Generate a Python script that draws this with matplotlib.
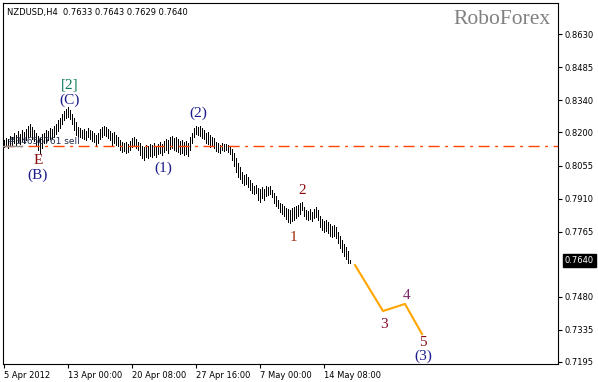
import matplotlib.pyplot as plt
import matplotlib.transforms as mtransforms

# H4 bars, NZDUSD (high / low per bar)
highs = [
    0.8167, 0.8176, 0.8171, 0.8184, 0.8180, 0.8197, 0.8189, 0.8206, 0.8193, 0.8211,
    0.8202, 0.8215, 0.8228, 0.8237, 0.8224, 0.8211, 0.8197, 0.8184, 0.8176, 0.8193,
    0.8197, 0.8211, 0.8206, 0.8219, 0.8215, 0.8228, 0.8237, 0.8254, 0.8263, 0.8281,
    0.8294, 0.8303, 0.8311, 0.8298, 0.8281, 0.8263, 0.8246, 0.8224, 0.8219, 0.8211,
    0.8215, 0.8206, 0.8219, 0.8211, 0.8206, 0.8197, 0.8189, 0.8197, 0.8215, 0.8224,
    0.8228, 0.8224, 0.8215, 0.8206, 0.8197, 0.8202, 0.8189, 0.8180, 0.8167, 0.8158,
    0.8154, 0.8158, 0.8149, 0.8162, 0.8176, 0.8180, 0.8171, 0.8158, 0.8154, 0.8141,
    0.8136, 0.8145, 0.8141, 0.8149, 0.8145, 0.8154, 0.8141, 0.8149, 0.8158, 0.8149,
    0.8162, 0.8171, 0.8167, 0.8180, 0.8184, 0.8176, 0.8180, 0.8171, 0.8162, 0.8167,
    0.8158, 0.8162, 0.8154, 0.8180, 0.8197, 0.8219, 0.8228, 0.8224, 0.8228, 0.8219,
    0.8211, 0.8197, 0.8202, 0.8189, 0.8180, 0.8176, 0.8158, 0.8154, 0.8145, 0.8154,
    0.8149, 0.8149, 0.8145, 0.8141, 0.8127, 0.8110, 0.8088, 0.8066, 0.8049, 0.8027,
    0.8014, 0.8018, 0.8005, 0.7992, 0.7978, 0.7966, 0.7970, 0.7957, 0.7952, 0.7961,
    0.7952, 0.7966, 0.7961, 0.7966, 0.7948, 0.7935, 0.7922, 0.7904, 0.7891, 0.7887,
    0.7878, 0.7869, 0.7865, 0.7860, 0.7869, 0.7873, 0.7878, 0.7882, 0.7891, 0.7895,
    0.7873, 0.7860, 0.7856, 0.7865, 0.7851, 0.7865, 0.7873, 0.7860, 0.7834, 0.7821,
    0.7812, 0.7816, 0.7808, 0.7799, 0.7790, 0.7795, 0.7786, 0.7764, 0.7747, 0.7729,
    0.7711, 0.7698, 0.7681, 0.7643,
]
lows = [
    0.8136, 0.8141, 0.8132, 0.8141, 0.8145, 0.8154, 0.8141, 0.8158, 0.8149, 0.8162,
    0.8154, 0.8167, 0.8180, 0.8184, 0.8171, 0.8162, 0.8145, 0.8123, 0.8110, 0.8132,
    0.8154, 0.8158, 0.8167, 0.8171, 0.8176, 0.8180, 0.8193, 0.8206, 0.8219, 0.8237,
    0.8254, 0.8263, 0.8268, 0.8259, 0.8237, 0.8211, 0.8189, 0.8184, 0.8180, 0.8176,
    0.8171, 0.8167, 0.8180, 0.8171, 0.8162, 0.8158, 0.8145, 0.8154, 0.8171, 0.8180,
    0.8189, 0.8184, 0.8176, 0.8167, 0.8145, 0.8154, 0.8145, 0.8141, 0.8123, 0.8114,
    0.8119, 0.8110, 0.8114, 0.8123, 0.8136, 0.8141, 0.8132, 0.8123, 0.8101, 0.8088,
    0.8079, 0.8092, 0.8088, 0.8097, 0.8092, 0.8101, 0.8092, 0.8105, 0.8110, 0.8101,
    0.8114, 0.8123, 0.8110, 0.8127, 0.8132, 0.8123, 0.8119, 0.8114, 0.8105, 0.8110,
    0.8101, 0.8105, 0.8097, 0.8123, 0.8154, 0.8180, 0.8193, 0.8189, 0.8184, 0.8176,
    0.8171, 0.8154, 0.8149, 0.8136, 0.8141, 0.8132, 0.8119, 0.8114, 0.8110, 0.8123,
    0.8119, 0.8123, 0.8114, 0.8105, 0.8079, 0.8053, 0.8027, 0.8005, 0.7996, 0.7978,
    0.7970, 0.7974, 0.7961, 0.7948, 0.7935, 0.7930, 0.7935, 0.7904, 0.7895, 0.7913,
    0.7904, 0.7922, 0.7926, 0.7930, 0.7917, 0.7891, 0.7878, 0.7869, 0.7851, 0.7843,
    0.7834, 0.7821, 0.7808, 0.7803, 0.7812, 0.7816, 0.7825, 0.7834, 0.7843, 0.7860,
    0.7834, 0.7821, 0.7816, 0.7821, 0.7812, 0.7825, 0.7829, 0.7816, 0.7786, 0.7773,
    0.7764, 0.7768, 0.7760, 0.7747, 0.7742, 0.7747, 0.7738, 0.7716, 0.7694, 0.7676,
    0.7659, 0.7646, 0.7629, 0.7629,
]

# forecast path (bar index, price)
proj_idx = [175.5, 189.5, 200.5, 209]
proj_price = [0.7619, 0.7418, 0.7449, 0.7317]

sell_level = 0.8141
last_price = 0.7640

price_ticks = [0.8630, 0.8485, 0.8340, 0.8200, 0.8055, 0.7910, 0.7765, 0.7480, 0.7335, 0.7195]
date_idx = [0, 32, 64, 96, 128, 160]
date_labels = ["5 Apr 2012", "13 Apr 00:00", "20 Apr 08:00", "27 Apr 16:00", "7 May 00:00", "14 May 08:00"]

# wave labels: text, bar index, price, colour
waves = [
    ("[2]", 33, 0.8408, "#0a7a5a"),
    ("(C)", 33, 0.8342, "#1c1c8c"),
    ("E", 17, 0.8079, "#8b0a0a"),
    ("(B)", 17, 0.8014, "#1c1c8c"),
    ("(1)", 79.5, 0.8044, "#1c1c8c"),
    ("(2)", 97, 0.8285, "#1c1c8c"),
    ("1", 144.5, 0.7738, "#a02a0a"),
    ("2", 149, 0.7944, "#8b0a0a"),
    ("3", 190, 0.7361, "#8b0a2a"),
    ("4", 201.5, 0.7488, "#7a2a6a"),
    ("5", 209.5, 0.7282, "#8b0a0a"),
    ("(3)", 209.5, 0.7221, "#1c1c8c"),
]

fig = plt.figure(figsize=(5.98, 3.82), dpi=100)
ax = fig.add_axes([3 / 598, 18 / 382, 555 / 598, 361 / 382])

ax.vlines(range(len(highs)), lows, highs, color="black", linewidth=0.5, antialiased=False)
ax.plot(proj_idx, proj_price, color="#ffa500", linewidth=1.5)
ax.axhline(sell_level, color="#ff4500", linewidth=1.0, linestyle=(0, (8, 4, 2, 4)))
ax.plot([-0.5, 9], [sell_level, sell_level], color="#909090", linewidth=1.0, zorder=4)
ax.text(2, sell_level + 0.0001, "#34656761 sell", fontsize=6.5, color="#1e2a48",
        va="bottom", zorder=5)

for txt, xi, yp, col in waves:
    ax.text(xi, yp, txt, fontsize=11, color=col, ha="center", va="center",
            family="Liberation Serif")

ax.set_xlim(-0.5, 277)
ax.set_ylim(0.7186, 0.8767)

ax.yaxis.tick_right()
ax.set_yticks(price_ticks)
ax.set_yticklabels([f"{p:.4f}" for p in price_ticks])
ax.tick_params(axis="y", labelsize=6, length=3, pad=2)
ax.set_xticks(date_idx)
ax.set_xticklabels(date_labels, ha="left")
ax.tick_params(axis="x", labelsize=6, length=3, pad=2)

# current price marker on the axis
trans = mtransforms.blended_transform_factory(ax.transAxes, ax.transData)
ax.text(1.012, last_price, f"{last_price:.4f}", transform=trans, fontsize=6,
        color="white", va="center", ha="left",
        bbox=dict(boxstyle="square,pad=0.25", facecolor="black", edgecolor="black"))

ax.text(0.007, 0.985, "NZDUSD,H4  0.7633 0.7643 0.7629 0.7640", transform=ax.transAxes,
        fontsize=6, va="top", ha="left")
ax.text(0.987, 0.955, "RoboForex", transform=ax.transAxes, fontsize=15.5,
        color="#808080", va="center", ha="right", family="Liberation Serif")

plt.savefig("out.png", dpi=100)
